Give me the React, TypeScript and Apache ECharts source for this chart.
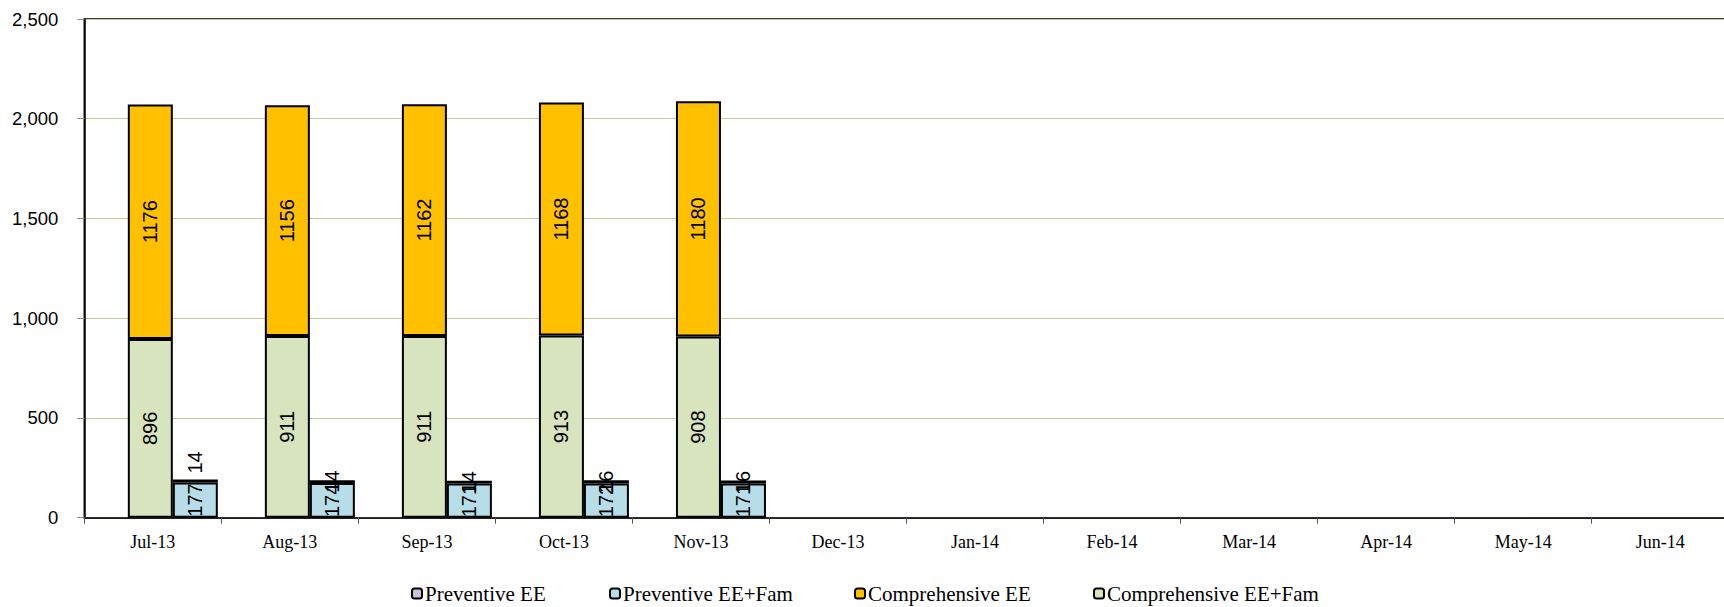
import React, { useEffect, useRef } from "react";
import * as echarts from "echarts";

// Monthly enrollment by plan type
const months = [
  "Jul-13", "Aug-13", "Sep-13", "Oct-13", "Nov-13", "Dec-13",
  "Jan-14", "Feb-14", "Mar-14", "Apr-14", "May-14", "Jun-14",
];
const comprehensiveEEFam = [896, 911, 911, 913, 908];
const comprehensiveEE = [1176, 1156, 1162, 1168, 1180];
const preventiveEEFam = [177, 174, 171, 172, 171];
const preventiveEE = [14, 14, 14, 16, 16];

const yTicks = { min: 0, max: 2500, interval: 500 };

const COLORS = {
  preventiveEE: "#ccc0da",
  preventiveEEFam: "#b7dee8",
  comprehensiveEE: "#ffc000",
  comprehensiveEEFam: "#d7e4bd",
};

const legendNames = [
  "Preventive EE",
  "Preventive EE+Fam",
  "Comprehensive EE",
  "Comprehensive EE+Fam",
];
const legendLeft = [406, 604, 849, 1088];

export default function App() {
  const ref = useRef<HTMLDivElement>(null);

  useEffect(() => {
    if (!ref.current) return;
    const chart = echarts.init(ref.current, null, { renderer: "svg" });

    const barBorder = { borderColor: "#000", borderWidth: 2 };
    const valueLabel = {
      show: true,
      position: "inside" as const,
      rotate: 90,
      color: "#000",
      fontFamily: "Liberation Sans, Arial, sans-serif",
      fontSize: 20,
    };
    const BW = 45;

    chart.setOption({
      animation: false,
      backgroundColor: "#fff",
      grid: {
        left: 84.3,
        right: 11.3,
        top: 19,
        bottom: 89.3,
        show: true,
        borderColor: "#000",
        borderWidth: 1.5,
        containLabel: false,
      },
      legend: legendNames.map((name, i) => ({
        data: [name],
        left: legendLeft[i],
        top: 578,
        itemWidth: 10,
        itemHeight: 10,
        itemGap: 4,
        textStyle: {
          fontFamily: "Liberation Serif, Times New Roman, serif",
          fontSize: 21,
          color: "#000",
          padding: [0, 0, 0, -2],
        },
        selectedMode: false,
      })),
      xAxis: {
        type: "category",
        data: months,
        axisLine: { lineStyle: { color: "#000", width: 1.5 } },
        axisTick: { show: true, length: 6, lineStyle: { color: "#555" } },
        axisLabel: {
          color: "#000",
          fontFamily: "Liberation Serif, Times New Roman, serif",
          fontSize: 18,
          margin: 15,
        },
      },
      yAxis: {
        type: "value",
        ...yTicks,
        axisLine: { show: true, lineStyle: { color: "#000", width: 1.5 } },
        axisTick: { show: true, length: 7, lineStyle: { color: "#888" } },
        axisLabel: {
          color: "#000",
          fontFamily: "Liberation Sans, Arial, sans-serif",
          fontSize: 18.5,
          margin: 26,
          formatter: (v: number) => v.toLocaleString("en-US"),
        },
        splitLine: { lineStyle: { color: "#c3c99b", width: 1 } },
      },
      series: [
        // empty slot that keeps the two stacks right of the category centre
        { name: "_slot", type: "bar", stack: "slot", barWidth: 40, barGap: 0, data: [] },
        {
          name: "Comprehensive EE+Fam",
          type: "bar",
          stack: "comp",
          barWidth: BW,
          barGap: 0,
          data: comprehensiveEEFam,
          itemStyle: { color: COLORS.comprehensiveEEFam, ...barBorder },
          label: valueLabel,
        },
        {
          name: "Comprehensive EE",
          type: "bar",
          stack: "comp",
          barWidth: BW,
          barGap: 0,
          data: comprehensiveEE,
          itemStyle: { color: COLORS.comprehensiveEE, ...barBorder },
          label: valueLabel,
        },
        {
          name: "Preventive EE+Fam",
          type: "bar",
          stack: "prev",
          barWidth: BW,
          barGap: 0,
          data: preventiveEEFam,
          itemStyle: { color: COLORS.preventiveEEFam, ...barBorder },
          label: valueLabel,
        },
        {
          name: "Preventive EE",
          type: "bar",
          stack: "prev",
          barWidth: BW,
          barGap: 0,
          data: preventiveEE.map((v, i) =>
            i === 0
              ? {
                  value: v,
                  label: {
                    position: "top",
                    distance: 6,
                    align: "left",
                    verticalAlign: "middle",
                  },
                }
              : v
          ),
          itemStyle: { color: COLORS.preventiveEE, ...barBorder },
          label: valueLabel,
        },
      ],
    });

    return () => chart.dispose();
  }, []);

  return (
    <div
      ref={ref}
      style={{ position: "fixed", left: 0, top: 0, width: 1740, height: 607 }}
    />
  );
}
